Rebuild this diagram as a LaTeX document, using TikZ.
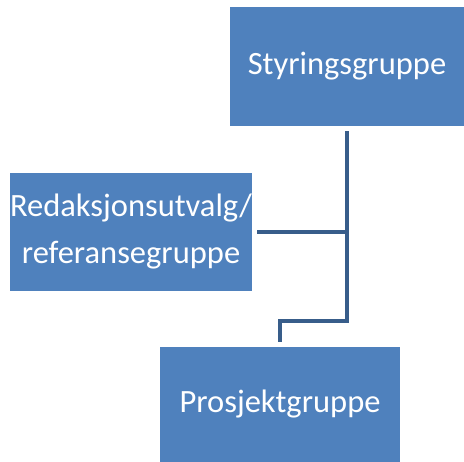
\documentclass[tikz,border=0pt]{standalone}
\usepackage{fontspec}
\setmainfont{Carlito}
\definecolor{boxblue}{HTML}{4F81BD}
\definecolor{linkblue}{HTML}{385D8A}
\begin{document}
\begin{tikzpicture}[x=1pt,y=1pt,
  orgbox/.style={fill=boxblue, draw=none, text=white, inner sep=0pt,
    align=center, font=\fontsize{32.5}{47}\selectfont},
  conn/.style={draw=linkblue, line width=3.6pt}]
  \useasboundingbox (0,0) rectangle (464,-462);
  % boxes
  \node[orgbox, minimum width=234pt, minimum height=119pt] (sty) at (347,-66.5) {Styringsgruppe};
  \node[orgbox, minimum width=240pt, minimum height=118pt] (red) at (131,-232) {Redaksjonsutvalg/\\referansegruppe};
  \node[orgbox, minimum width=240pt, minimum height=115pt] (prj) at (280,-404.5) {Prosjektgruppe};
  % connectors
  \coordinate (bend) at (0,-321);
  \draw[conn, shorten <=5pt, shorten >=5pt]
    (sty.south) -- (sty.south |- bend) -| (prj.north);
  \draw[conn, shorten <=5pt] (red.east) -- (red.east -| sty.south);
\end{tikzpicture}
\end{document}
